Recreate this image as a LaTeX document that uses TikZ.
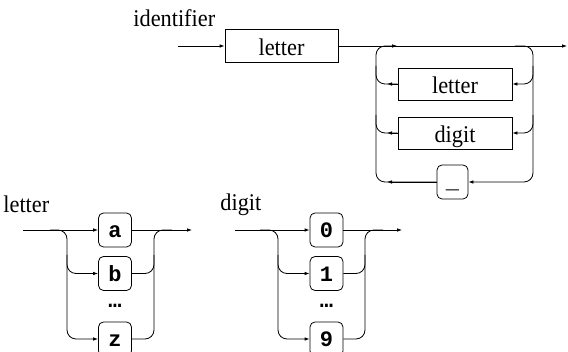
\documentclass[tikz,border=0pt]{standalone}
\usepackage{fontspec}
\setmainfont{Liberation Serif}[FakeStretch=0.93]
\setmonofont{Liberation Mono}
\usetikzlibrary{arrows.meta}
\begin{document}
\begin{tikzpicture}[x=1pt,y=-1pt,
  line width=0.8pt,
  tip/.style={-{Latex[length=5pt,width=3.6pt]}},
  rc/.style={rounded corners=9pt},
  nonterm/.style={draw,inner sep=0pt,minimum height=33pt,
    font=\fontsize{24}{26}\selectfont,text height=20pt,text depth=0pt},
  term/.style={draw,rounded corners=5pt,inner sep=0pt,minimum width=33pt,minimum height=34pt,
    font=\fontsize{22}{24}\selectfont\ttfamily\bfseries,text height=16pt,text depth=0pt},
  dots/.style={inner sep=0pt,font=\fontsize{22}{24}\selectfont\ttfamily\bfseries},
  lbl/.style={anchor=base west,inner sep=0pt,font=\fontsize{24}{26}\selectfont}]
\useasboundingbox (0,0) rectangle (568,352);
\clip (0,0) rectangle (568,352);

% ---------- identifier ----------
\node[lbl] (tid) at (133,27) {identifier};
\coordinate (s0) at (178,46);
\coordinate (e0) at (567,46);
\node[nonterm,minimum width=113pt] (L1) at (281.5,46) {letter};
\node[nonterm,minimum width=114pt,minimum height=32pt] (L2) at (455,84) {letter};
\node[nonterm,minimum width=114pt,minimum height=32pt] (D2) at (455,133) {digit};
\node[term,minimum width=31pt,text height=14pt] (U) at (452.5,182) {\_};

\draw[tip] (s0) -- (L1.west);
\draw[tip] (L1.east) -- (e0);
% right side of loop
\draw[rc,tip] (515,46) -- (533,46) -- (533,182) -- (U.east);
\draw[rc,tip] (533,66) -- (533,84) -- (L2.east);
\draw[rc,tip] (533,115) -- (533,133) -- (D2.east);
% left side of loop
\draw[rc] (U.west) -- (376,182) -- (376,46) -- (396,46);
\draw[tip] (U.west) -- (387,182);
\draw[rc] (L2.west) -- (376,84) -- (376,66);
\draw[tip] (L2.west) -- (387,84);
\draw[rc] (D2.west) -- (376,133) -- (376,115);
\draw[tip] (D2.west) -- (387,133);
\draw[tip] (384,46) -- (397,46);

% ---------- letter ----------
\node[lbl] (tl) at (3,213) {letter};
\coordinate (s1) at (23,230);
\coordinate (e1) at (192,230);
\node[term] (A) at (115,230) {a};
\node[term] (B) at (115,273.5) {b};
\node[dots] (dl) at (115,306) {…};
\node[term] (Z) at (115,339) {z};
\draw[tip] (s1) -- (A.west);
\draw[tip] (A.east) -- (e1);
\draw[rc,tip] (50,230) -- (67,230) -- (67,339) -- (Z.west);
\draw[rc,tip] (67,255) -- (67,273.5) -- (B.west);
\draw[rc] (Z.east) -- (154,339) -- (154,230) -- (172,230);
\draw[rc] (B.east) -- (154,273.5) -- (154,255);

% ---------- digit ----------
\node[lbl] (td) at (220,211) {digit};
\coordinate (s2) at (235,230);
\coordinate (e2) at (402,230);
\node[term] (N0) at (326.5,230) {0};
\node[term] (N1) at (326.5,273.5) {1};
\node[dots] (dd) at (326.5,306) {…};
\node[term] (N9) at (326.5,339) {9};
\draw[tip] (s2) -- (N0.west);
\draw[tip] (N0.east) -- (e2);
\draw[rc,tip] (260,230) -- (278,230) -- (278,339) -- (N9.west);
\draw[rc,tip] (278,255) -- (278,273.5) -- (N1.west);
\draw[rc] (N9.east) -- (365,339) -- (365,230) -- (383,230);
\draw[rc] (N1.east) -- (365,273.5) -- (365,255);
\end{tikzpicture}
\end{document}
